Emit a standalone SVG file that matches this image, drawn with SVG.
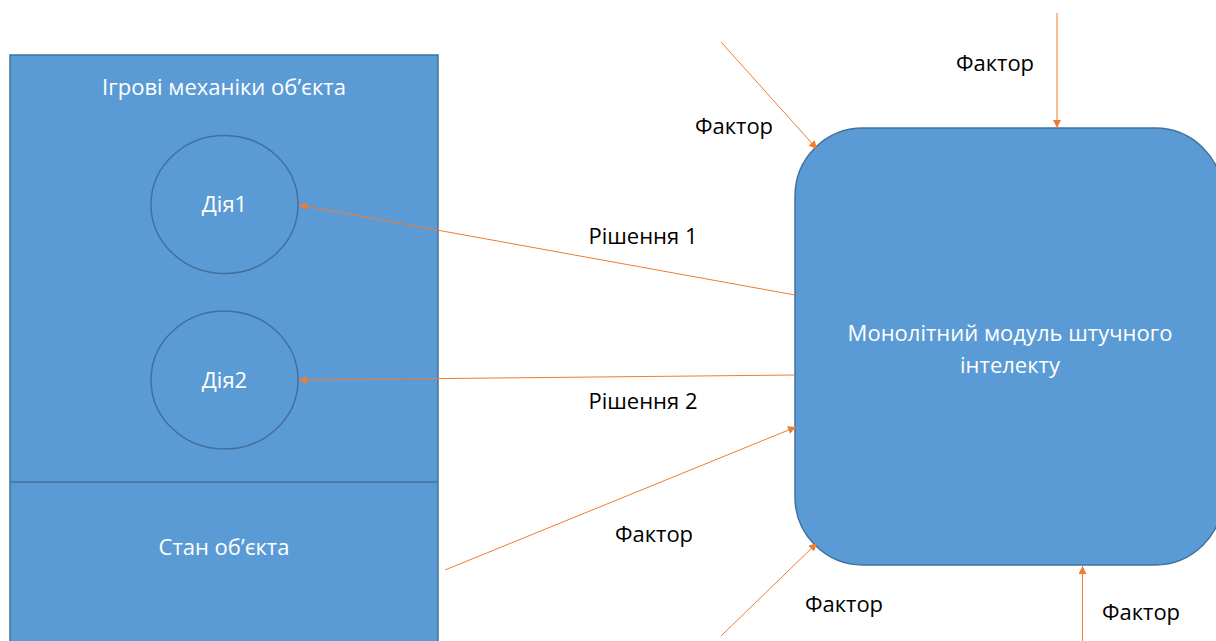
<svg xmlns="http://www.w3.org/2000/svg" width="1216" height="641" viewBox="0 0 1216 641">
  <style>
    .box { fill: #5B9BD5; stroke: #41719C; stroke-width: 1.5; }
    .act { fill: #5B9BD5; stroke: #41719C; stroke-width: 1.5; }
    .wt { fill: #FFFFFF; font-family: "Open Sans", "Liberation Sans", sans-serif; font-size: 22px; text-anchor: middle; }
    .bt { fill: #000000; font-family: "Open Sans", "Liberation Sans", sans-serif; font-size: 22px; text-anchor: middle; }
    .wire { stroke: #ED7D31; stroke-width: 1; fill: none; marker-end: url(#arr); }
  </style>
  <defs>
    <marker id="arr" viewBox="0 0 10 10" refX="10" refY="5" markerWidth="9" markerHeight="8" markerUnits="userSpaceOnUse" orient="auto">
      <path d="M0,0 L10,5 L0,10 Z" fill="#ED7D31"/>
    </marker>
  </defs>

  <!-- object block: mechanics + state -->
  <g id="object">
    <rect class="box" x="10" y="55" width="428" height="600"/>
    <line x1="10" y1="482" x2="438" y2="482" stroke="#41719C" stroke-width="1.5"/>
    <text class="wt" x="224" y="95">Ігрові механіки об’єкта</text>
    <text class="wt" x="224" y="555">Стан об’єкта</text>
  </g>

  <g id="action1">
    <ellipse class="act" cx="224.5" cy="204.5" rx="73.5" ry="69"/>
    <text class="wt" x="224.5" y="212">Дія1</text>
  </g>

  <g id="action2">
    <ellipse class="act" cx="224.5" cy="380" rx="73.5" ry="69"/>
    <text class="wt" x="224.5" y="388">Дія2</text>
  </g>

  <!-- AI module -->
  <g id="ai">
    <rect class="box" x="795" y="128" width="428" height="437" rx="68" ry="68"/>
    <text class="wt" x="1010" y="341">Монолітний модуль штучного</text>
    <text class="wt" x="1010" y="373">інтелекту</text>
  </g>

  <!-- connectors -->
  <g id="connectors">
    <line class="wire" x1="795" y1="295" x2="299" y2="205"/>
    <line class="wire" x1="795" y1="375" x2="299" y2="380"/>
    <line class="wire" x1="445" y1="570" x2="796" y2="427"/>
    <line class="wire" x1="721" y1="42" x2="817" y2="149"/>
    <line class="wire" x1="1057" y1="13" x2="1057" y2="128"/>
    <line class="wire" x1="721" y1="636" x2="817" y2="543"/>
    <line class="wire" x1="1082.5" y1="641" x2="1082.5" y2="566"/>
  </g>

  <!-- connector labels -->
  <g id="labels">
    <text class="bt" x="995" y="71">Фактор</text>
    <text class="bt" x="734" y="134">Фактор</text>
    <text class="bt" x="643" y="244">Рішення 1</text>
    <text class="bt" x="643" y="409">Рішення 2</text>
    <text class="bt" x="654" y="542">Фактор</text>
    <text class="bt" x="844" y="612">Фактор</text>
    <text class="bt" x="1141" y="620">Фактор</text>
  </g>
</svg>
